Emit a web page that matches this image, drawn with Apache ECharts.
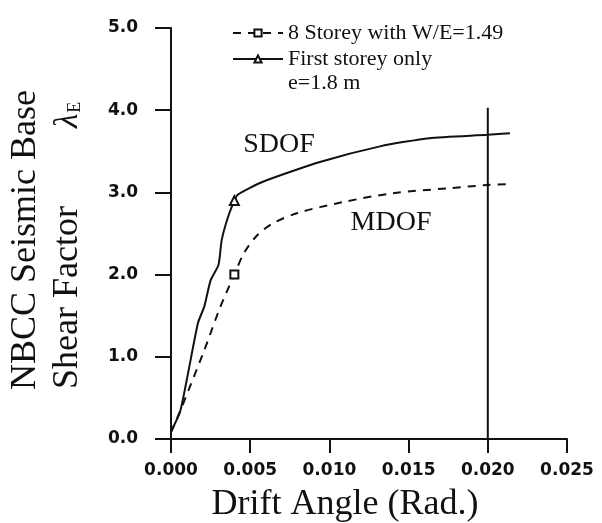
<!DOCTYPE html>
<html>
<head>
<meta charset="utf-8">
<script src="https://cdn.jsdelivr.net/npm/echarts@6/dist/echarts.min.js"></script>
<style>
  html, body { margin: 0; padding: 0; background: #fff; }
  #chart { width: 602px; height: 523px; }
</style>
</head>
<body>
<div id="chart"></div>
<script>
// Drift angle (rad) vs. NBCC seismic base shear factor
const mdofName = '8 Storey with W/E=1.49';
const sdofName = 'First storey only';

const mdofDrift = [0.0000, 0.0006, 0.0021, 0.0031, 0.0040, 0.0046, 0.0054, 0.0064, 0.0080, 0.0108, 0.0140, 0.0175, 0.0200, 0.0212];
const mdofShear = [0.08, 0.35, 1.08, 1.60, 2.00, 2.26, 2.47, 2.62, 2.75, 2.88, 2.99, 3.05, 3.09, 3.10];
const mdofMarkerDrift = 0.0040;

const sdofDrift = [0.0000, 0.0006, 0.0017, 0.0021, 0.0025, 0.0030, 0.0032, 0.0036, 0.0040, 0.0042, 0.0058, 0.0094, 0.0132, 0.0163, 0.0200, 0.0214];
const sdofShear = [0.09, 0.35, 1.41, 1.61, 1.93, 2.12, 2.42, 2.70, 2.90, 2.97, 3.13, 3.37, 3.56, 3.66, 3.70, 3.72];
const sdofMarkerDrift = 0.0040;

// reference drift limit
const limitDrift = [0.020, 0.020];
const limitShear = [0.0, 4.03];

const xTicks = { min: 0, max: 0.025, step: 0.005 };
const yTicks = { min: 0, max: 5, step: 1 };

function buildSeriesData(xs, ys, markerX) {
  return xs.map((x, i) => {
    const item = { value: [x, ys[i]] };
    if (Math.abs(x - markerX) > 1e-9) item.symbol = 'none';
    return item;
  });
}

const ink = '#111';
const serif = 'Liberation Serif';
const tickFont = { fontFamily: 'DejaVu Sans', fontWeight: 'bold', fontSize: 17, color: ink };

const chart = echarts.init(document.getElementById('chart'), null, { renderer: 'canvas' });

chart.setOption({
  backgroundColor: '#fff',
  animation: false,
  grid: { left: 171, right: 35, top: 28, bottom: 84, containLabel: false },
  legend: {
    data: [mdofName, sdofName],
    orient: 'vertical',
    left: 227,
    top: 17,
    itemWidth: 50,
    itemHeight: 9,
    itemGap: 4,
    selectedMode: false,
    textStyle: { fontFamily: serif, fontSize: 22, color: ink }
  },
  xAxis: {
    type: 'value',
    min: xTicks.min,
    max: xTicks.max,
    interval: xTicks.step,
    splitLine: { show: false },
    axisLine: { onZero: false, lineStyle: { color: ink, width: 2 } },
    axisTick: { length: 14, lineStyle: { color: ink, width: 2 } },
    axisLabel: Object.assign({ margin: 23, formatter: v => v.toFixed(3) }, tickFont)
  },
  yAxis: {
    type: 'value',
    min: yTicks.min,
    max: yTicks.max,
    interval: yTicks.step,
    splitLine: { show: false },
    axisLine: { onZero: false, lineStyle: { color: ink, width: 2 } },
    axisTick: { length: 16, lineStyle: { color: ink, width: 2 } },
    axisLabel: Object.assign({ margin: 33, formatter: v => v.toFixed(1) }, tickFont)
  },
  series: [
    {
      name: mdofName,
      type: 'line',
      data: buildSeriesData(mdofDrift, mdofShear, mdofMarkerDrift),
      smooth: 0.3,
      symbol: 'emptyRect',
      symbolSize: 8,
      lineStyle: { color: ink, width: 2, type: [8, 7] },
      itemStyle: { color: ink, borderWidth: 1.5 },
      z: 3
    },
    {
      name: sdofName,
      type: 'line',
      data: buildSeriesData(sdofDrift, sdofShear, sdofMarkerDrift),
      smooth: 0.2,
      symbol: 'emptyTriangle',
      symbolSize: 9,
      lineStyle: { color: ink, width: 2 },
      itemStyle: { color: ink, borderWidth: 2 },
      z: 3
    },
    {
      name: 'limit',
      type: 'line',
      data: limitDrift.map((x, i) => [x, limitShear[i]]),
      symbol: 'none',
      silent: true,
      lineStyle: { color: ink, width: 2 },
      z: 2
    }
  ],
  graphic: [
    {
      type: 'text', x: 279, y: 145,
      style: { text: 'SDOF', font: '28px "Liberation Serif"', fill: ink, align: 'center', verticalAlign: 'middle' }
    },
    {
      type: 'text', x: 391, y: 223,
      style: { text: 'MDOF', font: '28px "Liberation Serif"', fill: ink, align: 'center', verticalAlign: 'middle' }
    },
    {
      type: 'text', x: 288, y: 83,
      style: { text: 'e=1.8 m', font: '22px "Liberation Serif"', fill: ink, align: 'left', verticalAlign: 'middle' }
    },
    {
      type: 'text', x: 345, y: 505,
      style: { text: 'Drift Angle (Rad.)', font: '36px "Liberation Serif"', fill: ink, align: 'center', verticalAlign: 'middle' }
    },
    {
      type: 'text', x: 26, y: 390, rotation: Math.PI / 2,
      style: { text: 'NBCC Seismic Base', font: '36px "Liberation Serif"', fill: ink, align: 'left', verticalAlign: 'middle' }
    },
    {
      type: 'text', x: 68, y: 389, rotation: Math.PI / 2,
      style: { text: 'Shear Factor', font: '36px "Liberation Serif"', fill: ink, align: 'left', verticalAlign: 'middle' }
    },
    {
      type: 'text', x: 68, y: 128, rotation: Math.PI / 2,
      style: {
        text: '{l|λ}{s|E}',
        align: 'left', verticalAlign: 'middle',
        rich: {
          l: { font: 'italic 33px "Liberation Serif"', fill: ink, verticalAlign: 'middle' },
          s: { font: '18px "Liberation Serif"', fill: ink, verticalAlign: 'bottom', padding: [8, 0, 0, 1] }
        }
      }
    }
  ]
});
</script>
</body>
</html>
